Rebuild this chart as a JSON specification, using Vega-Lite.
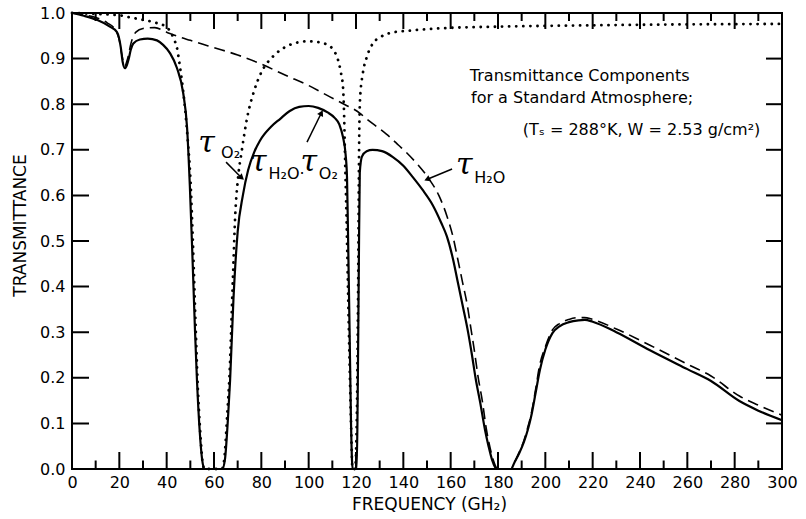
{
  "$schema": "https://vega.github.io/schema/vega-lite/v6.json",
  "width": 710,
  "height": 456,
  "autosize": {"type": "none"},
  "padding": {"left": 72, "top": 13, "right": 24, "bottom": 50},
  "background": "white",
  "config": {
    "view": {"stroke": "black", "strokeWidth": 2}
  },
  "datasets": {
    "total": [
      {"f":0,"t":1.0},{"f":5,"t":0.994},{"f":10.5,"t":0.985},{"f":16,"t":0.97},{"f":19,"t":0.958},{"f":20.6,"t":0.925},{"f":21.4,"t":0.893},{"f":22.3,"t":0.879},{"f":23.2,"t":0.886},{"f":24,"t":0.9},{"f":24.8,"t":0.919},{"f":25.9,"t":0.933},{"f":28.7,"t":0.942},{"f":32,"t":0.944},{"f":35.9,"t":0.94},{"f":38.5,"t":0.93},{"f":41.4,"t":0.912},{"f":44.3,"t":0.88},{"f":47,"t":0.824},{"f":48.6,"t":0.75},{"f":49.8,"t":0.62},{"f":51,"t":0.45},{"f":52,"t":0.3},{"f":52.8,"t":0.195},{"f":54,"t":0.08},{"f":55,"t":0.02},{"f":56,"t":0},{"f":63.5,"t":0},{"f":64.6,"t":0.02},{"f":66,"t":0.12},{"f":66.8,"t":0.195},{"f":68.2,"t":0.37},{"f":70,"t":0.52},{"f":72.2,"t":0.6},{"f":74.4,"t":0.655},{"f":77,"t":0.695},{"f":79.4,"t":0.72},{"f":84,"t":0.75},{"f":88,"t":0.768},{"f":92,"t":0.785},{"f":96,"t":0.794},{"f":100,"t":0.796},{"f":104,"t":0.792},{"f":108,"t":0.782},{"f":111,"t":0.77},{"f":113,"t":0.755},{"f":114.5,"t":0.728},{"f":115.6,"t":0.69},{"f":116.2,"t":0.64},{"f":116.6,"t":0.524},{"f":117.3,"t":0.3},{"f":117.9,"t":0.1},{"f":118.3,"t":0.02},{"f":118.6,"t":0},{"f":120.3,"t":0},{"f":120.7,"t":0.15},{"f":121.2,"t":0.45},{"f":121.6,"t":0.65},{"f":122.5,"t":0.685},{"f":124.5,"t":0.697},{"f":127,"t":0.7},{"f":131,"t":0.697},{"f":135.6,"t":0.684},{"f":140,"t":0.665},{"f":144,"t":0.64},{"f":148,"t":0.613},{"f":152.5,"t":0.578},{"f":156,"t":0.54},{"f":158.4,"t":0.51},{"f":161,"t":0.46},{"f":163,"t":0.41},{"f":165,"t":0.36},{"f":167,"t":0.31},{"f":169,"t":0.25},{"f":170.5,"t":0.2},{"f":172.5,"t":0.145},{"f":174.5,"t":0.086},{"f":176,"t":0.05},{"f":177.5,"t":0.02},{"f":179.5,"t":0},{"f":185.5,"t":0},{"f":187,"t":0.015},{"f":189,"t":0.035},{"f":191,"t":0.06},{"f":192.6,"t":0.086},{"f":194,"t":0.115},{"f":196,"t":0.17},{"f":197.7,"t":0.217},{"f":200,"t":0.262},{"f":203,"t":0.298},{"f":206,"t":0.313},{"f":210,"t":0.322},{"f":214,"t":0.326},{"f":216.7,"t":0.327},{"f":220,"t":0.323},{"f":230,"t":0.3},{"f":244,"t":0.261},{"f":260,"t":0.219},{"f":270,"t":0.193},{"f":282,"t":0.149},{"f":290,"t":0.128},{"f":300,"t":0.107}
    ],
    "h2o": [
      {"f":0,"t":1.0},{"f":5,"t":0.996},{"f":10,"t":0.99},{"f":15,"t":0.978},{"f":18,"t":0.965},{"f":20,"t":0.94},{"f":21,"t":0.91},{"f":22.3,"t":0.884},{"f":23.5,"t":0.9},{"f":25,"t":0.935},{"f":27,"t":0.958},{"f":30,"t":0.966},{"f":35,"t":0.968},{"f":40,"t":0.958},{"f":45,"t":0.948},{"f":50,"t":0.94},{"f":55,"t":0.932},{"f":60,"t":0.924},{"f":70,"t":0.908},{"f":80,"t":0.888},{"f":90,"t":0.864},{"f":100,"t":0.841},{"f":109,"t":0.816},{"f":115,"t":0.8},{"f":121.7,"t":0.78},{"f":124.6,"t":0.767},{"f":130,"t":0.746},{"f":134.3,"t":0.728},{"f":138,"t":0.71},{"f":141.5,"t":0.693},{"f":146,"t":0.668},{"f":151,"t":0.635},{"f":155,"t":0.6},{"f":158.4,"t":0.555},{"f":161,"t":0.509},{"f":163,"t":0.46},{"f":165,"t":0.41},{"f":167,"t":0.36},{"f":168.5,"t":0.31},{"f":170,"t":0.26},{"f":171.5,"t":0.205},{"f":173.5,"t":0.145},{"f":175,"t":0.09},{"f":176.5,"t":0.05},{"f":178,"t":0.02},{"f":180,"t":0},{"f":185.5,"t":0},{"f":187,"t":0.015},{"f":189,"t":0.037},{"f":191,"t":0.063},{"f":192.5,"t":0.09},{"f":194,"t":0.12},{"f":196,"t":0.178},{"f":197.5,"t":0.225},{"f":200,"t":0.268},{"f":203,"t":0.305},{"f":206,"t":0.319},{"f":210,"t":0.328},{"f":214,"t":0.332},{"f":216.5,"t":0.332},{"f":220,"t":0.328},{"f":230,"t":0.307},{"f":244,"t":0.272},{"f":260,"t":0.23},{"f":270,"t":0.204},{"f":282,"t":0.16},{"f":290,"t":0.14},{"f":300,"t":0.118}
    ],
    "o2": [
      {"f":0,"t":1.0},{"f":10,"t":0.998},{"f":20,"t":0.995},{"f":25.8,"t":0.989},{"f":30,"t":0.985},{"f":35.8,"t":0.978},{"f":40,"t":0.969},{"f":42,"t":0.955},{"f":43.3,"t":0.94},{"f":44.3,"t":0.925},{"f":45.4,"t":0.89},{"f":46.4,"t":0.853},{"f":47.7,"t":0.794},{"f":49,"t":0.715},{"f":50,"t":0.64},{"f":51.2,"t":0.48},{"f":52.2,"t":0.32},{"f":53,"t":0.2},{"f":54.2,"t":0.08},{"f":55.3,"t":0.01},{"f":56,"t":0},{"f":63.3,"t":0},{"f":64.3,"t":0.02},{"f":65.6,"t":0.12},{"f":66.5,"t":0.2},{"f":68,"t":0.42},{"f":69,"t":0.56},{"f":70,"t":0.63},{"f":71.8,"t":0.7},{"f":74,"t":0.77},{"f":77,"t":0.83},{"f":80,"t":0.87},{"f":85,"t":0.905},{"f":90,"t":0.925},{"f":95,"t":0.935},{"f":100,"t":0.938},{"f":105,"t":0.935},{"f":108,"t":0.93},{"f":110.3,"t":0.92},{"f":112.4,"t":0.897},{"f":113.6,"t":0.87},{"f":114.5,"t":0.838},{"f":115,"t":0.772},{"f":115.3,"t":0.7},{"f":116,"t":0.55},{"f":117,"t":0.3},{"f":118,"t":0.08},{"f":118.5,"t":0},{"f":119.6,"t":0},{"f":120.3,"t":0.1},{"f":120.9,"t":0.4},{"f":121.3,"t":0.7},{"f":121.7,"t":0.81},{"f":122.9,"t":0.868},{"f":124.6,"t":0.904},{"f":127.2,"t":0.934},{"f":130,"t":0.946},{"f":134.3,"t":0.956},{"f":144,"t":0.962},{"f":158,"t":0.967},{"f":180,"t":0.97},{"f":220,"t":0.973},{"f":260,"t":0.975},{"f":300,"t":0.976}
    ],
    "xmajor": [{"f":20},{"f":40},{"f":60},{"f":80},{"f":100},{"f":120},{"f":140},{"f":160},{"f":180},{"f":200},{"f":220},{"f":240},{"f":260},{"f":280}],
    "xminor": [{"f":10},{"f":30},{"f":50},{"f":70},{"f":90},{"f":110},{"f":130},{"f":150},{"f":170},{"f":190},{"f":210},{"f":230},{"f":250},{"f":270},{"f":290}],
    "yticks": [{"t":0.1},{"t":0.2},{"t":0.3},{"t":0.4},{"t":0.5},{"t":0.6},{"t":0.7},{"t":0.8},{"t":0.9}],
    "notes": [
      {"f":168.1,"t":0.851,"text":"Transmittance Components"},
      {"f":168.6,"t":0.803,"text":"for a Standard Atmosphere;"},
      {"f":190.5,"t":0.732,"text":"(Tₛ = 288°K, W = 2.53 g/cm²)"}
    ],
    "taus": [
      {"f":53.3,"t":0.695,"text":"τ"},
      {"f":75.2,"t":0.654,"text":"τ"},
      {"f":96.6,"t":0.654,"text":"τ"},
      {"f":162.3,"t":0.647,"text":"τ"}
    ],
    "subs": [
      {"f":63.0,"t":0.683,"text":"O₂"},
      {"f":83.0,"t":0.636,"text":"H₂O·"},
      {"f":104.3,"t":0.636,"text":"O₂"},
      {"f":170.0,"t":0.627,"text":"H₂O"}
    ],
    "arrows": [
      {"f":65.1,"t":0.673,"f2":71.4,"t2":0.64},
      {"f":99.3,"t":0.717,"f2":105.2,"t2":0.779},
      {"f":160.6,"t":0.658,"f2":150.4,"t2":0.636}
    ]
  },
  "layer": [
    {
      "data": {"name": "total"},
      "mark": {"type": "line", "color": "black", "strokeWidth": 2.2, "interpolate": "monotone"},
      "encoding": {
        "x": {"field": "f", "type": "quantitative", "scale": {"domain": [0, 300], "nice": false},
          "axis": {"orient": "bottom", "grid": false, "domain": false, "ticks": false,
            "values": [0,20,40,60,80,100,120,140,160,180,200,220,240,260,280,300],
            "labelPadding": 5, "labelFlush": false, "labelOverlap": false,
            "labelFont": "DejaVu Sans", "labelFontSize": 16, "labelColor": "black",
            "title": "FREQUENCY (GH₂)", "titleFont": "DejaVu Sans", "titleFontSize": 17, "titleFontWeight": "normal", "titleColor": "black",
            "titleX": 357, "titleY": 40, "titleBaseline": "alphabetic", "titleAlign": "center"}},
        "y": {"field": "t", "type": "quantitative", "scale": {"domain": [0, 1], "nice": false},
          "axis": {"orient": "left", "grid": false, "domain": false, "ticks": false,
            "values": [0,0.1,0.2,0.3,0.4,0.5,0.6,0.7,0.8,0.9,1.0], "format": ".1f",
            "labelPadding": 7, "labelFlush": false, "labelOverlap": false,
            "labelFont": "DejaVu Sans", "labelFontSize": 16, "labelColor": "black",
            "title": "TRANSMITTANCE", "titleFont": "DejaVu Sans", "titleFontSize": 17, "titleFontWeight": "normal", "titleColor": "black",
            "titleX": -52, "titleY": 212, "titleAngle": -90, "titleAlign": "center", "titleBaseline": "middle"}}
      }
    },
    {
      "data": {"name": "h2o"},
      "mark": {"type": "line", "color": "black", "strokeWidth": 1.6, "strokeDash": [11, 6], "interpolate": "monotone"},
      "encoding": {
        "x": {"field": "f", "type": "quantitative"},
        "y": {"field": "t", "type": "quantitative"}
      }
    },
    {
      "data": {"name": "o2"},
      "mark": {"type": "line", "color": "black", "strokeWidth": 2.8, "strokeDash": [0.1, 7], "strokeCap": "round", "interpolate": "monotone"},
      "encoding": {
        "x": {"field": "f", "type": "quantitative"},
        "y": {"field": "t", "type": "quantitative"}
      }
    },
    {
      "data": {"name": "notes"},
      "mark": {"type": "text", "align": "left", "baseline": "alphabetic", "fontSize": 16, "color": "black", "font": "DejaVu Sans"},
      "encoding": {
        "x": {"field": "f", "type": "quantitative"},
        "y": {"field": "t", "type": "quantitative"},
        "text": {"field": "text"}
      }
    },
    {
      "data": {"name": "taus"},
      "mark": {"type": "text", "align": "left", "baseline": "alphabetic", "fontSize": 30, "fontStyle": "italic", "color": "black", "font": "DejaVu Serif"},
      "encoding": {
        "x": {"field": "f", "type": "quantitative"},
        "y": {"field": "t", "type": "quantitative"},
        "text": {"field": "text"}
      }
    },
    {
      "data": {"name": "subs"},
      "mark": {"type": "text", "align": "left", "baseline": "alphabetic", "fontSize": 16, "color": "black", "font": "DejaVu Sans"},
      "encoding": {
        "x": {"field": "f", "type": "quantitative"},
        "y": {"field": "t", "type": "quantitative"},
        "text": {"field": "text"}
      }
    },
    {
      "data": {"name": "arrows"},
      "mark": {"type": "rule", "color": "black", "strokeWidth": 1.5},
      "encoding": {
        "x": {"field": "f", "type": "quantitative"},
        "y": {"field": "t", "type": "quantitative"},
        "x2": {"field": "f2"},
        "y2": {"field": "t2"}
      }
    },
    {
      "data": {"values": [{"f": 71.4, "t": 0.64}]},
      "mark": {"type": "point", "shape": "triangle", "filled": true, "color": "black", "size": 45, "angle": 131, "opacity": 1},
      "encoding": {
        "x": {"field": "f", "type": "quantitative"},
        "y": {"field": "t", "type": "quantitative"}
      }
    },
    {
      "data": {"values": [{"f": 105.2, "t": 0.779}]},
      "mark": {"type": "point", "shape": "triangle", "filled": true, "color": "black", "size": 45, "angle": 27, "opacity": 1},
      "encoding": {
        "x": {"field": "f", "type": "quantitative"},
        "y": {"field": "t", "type": "quantitative"}
      }
    },
    {
      "data": {"values": [{"f": 150.4, "t": 0.636}]},
      "mark": {"type": "point", "shape": "triangle", "filled": true, "color": "black", "size": 45, "angle": 247, "opacity": 1},
      "encoding": {
        "x": {"field": "f", "type": "quantitative"},
        "y": {"field": "t", "type": "quantitative"}
      }
    },
    {
      "data": {"name": "xmajor"},
      "mark": {"type": "tick", "orient": "vertical", "color": "black", "opacity": 1, "size": 34, "thickness": 2, "clip": true},
      "encoding": {
        "x": {"field": "f", "type": "quantitative"},
        "y": {"datum": 0, "type": "quantitative"}
      }
    },
    {
      "data": {"name": "xmajor"},
      "mark": {"type": "tick", "orient": "vertical", "color": "black", "opacity": 1, "size": 32, "thickness": 2, "clip": true},
      "encoding": {
        "x": {"field": "f", "type": "quantitative"},
        "y": {"datum": 1, "type": "quantitative"}
      }
    },
    {
      "data": {"name": "xminor"},
      "mark": {"type": "tick", "orient": "vertical", "color": "black", "opacity": 1, "size": 17, "thickness": 2, "clip": true},
      "encoding": {
        "x": {"field": "f", "type": "quantitative"},
        "y": {"datum": 0, "type": "quantitative"}
      }
    },
    {
      "data": {"name": "xminor"},
      "mark": {"type": "tick", "orient": "vertical", "color": "black", "opacity": 1, "size": 16, "thickness": 2, "clip": true},
      "encoding": {
        "x": {"field": "f", "type": "quantitative"},
        "y": {"datum": 1, "type": "quantitative"}
      }
    },
    {
      "data": {"name": "yticks"},
      "mark": {"type": "tick", "orient": "horizontal", "color": "black", "opacity": 1, "size": 34, "thickness": 2, "clip": true},
      "encoding": {
        "y": {"field": "t", "type": "quantitative"},
        "x": {"datum": 0, "type": "quantitative"}
      }
    },
    {
      "data": {"name": "yticks"},
      "mark": {"type": "tick", "orient": "horizontal", "color": "black", "opacity": 1, "size": 32, "thickness": 2, "clip": true},
      "encoding": {
        "y": {"field": "t", "type": "quantitative"},
        "x": {"datum": 300, "type": "quantitative"}
      }
    }
  ]
}
